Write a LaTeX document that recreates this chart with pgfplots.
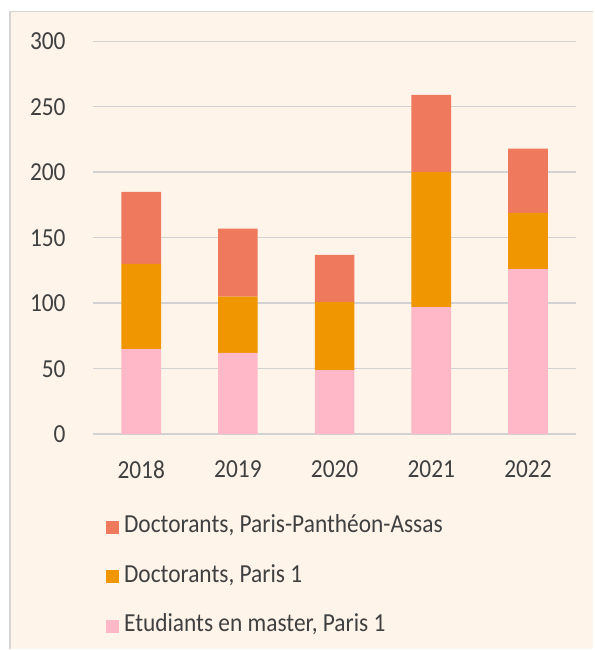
\documentclass[border=0pt]{standalone}
\usepackage{fontspec}
\setmainfont{Carlito}[FakeStretch=0.9]
\usepackage{pgfplots}
\pgfplotsset{compat=1.18}
\definecolor{bgc}{HTML}{FEF4EA}
\definecolor{bordc}{HTML}{D4D4D4}
\definecolor{gridc}{HTML}{D2D2D2}
\definecolor{txt}{HTML}{404040}
\definecolor{cpink}{HTML}{FFB8C8}
\definecolor{corange}{HTML}{F09600}
\definecolor{cred}{HTML}{EF795C}
\begin{document}
\fontsize{26bp}{30bp}\selectfont
\begin{tikzpicture}
\fill[white] (0,0) rectangle (594bp,650bp);
\fill[bgc] (10bp,0) rectangle (594bp,638.5bp);
\draw[bordc, line width=1.5bp] (10bp,0) -- (10bp,638.5bp) -- (594bp,638.5bp);
\useasboundingbox (0,0) rectangle (594bp,650bp);
\begin{axis}[
  at={(93bp,215.3bp)}, anchor=south west,
  scale only axis, width=484bp, height=393.4bp,
  ybar stacked, bar width=0.41,
  xmin=-0.5, xmax=4.5, ymin=0, ymax=300,
  ytick={0,50,100,150,200,250,300},
  xtick={0,1,2,3,4},
  xticklabels={2018,2019,2020,2021,2022},
  axis line style={draw=none},
  major tick length=0pt,
  ymajorgrids, grid style={gridc, line width=1.5bp},
  /pgf/number format/assume math mode=true,
  tick label style={text=txt, font=\fontsize{26bp}{30bp}\selectfont},
  yticklabel style={xshift=-18.5bp},
  xticklabel style={yshift=-18bp},
  reverse legend,
  legend cell align=left,
  legend style={at={(axis description cs:0.027,-0.21)}, anchor=north west,
    draw=none, fill=none, inner sep=0pt, row sep=28.5bp, column sep=5bp,
    font=\fontsize{26bp}{30bp}\selectfont,
    nodes={inner sep=0pt, text height=16bp, text depth=5bp, text=txt}},
  sq/.style={legend image code/.code={\fill[##1,draw=none] (0bp,-6.5bp) rectangle (13bp,6.5bp);}},
]
\addplot[fill=cpink, draw=none, sq] coordinates {(0,65) (1,62) (2,49) (3,97) (4,126)};
\addplot[fill=corange, draw=none, sq] coordinates {(0,65) (1,43) (2,52) (3,103) (4,43)};
\addplot[fill=cred, draw=none, sq] coordinates {(0,55) (1,52) (2,36) (3,59) (4,49)};
\legend{Etudiants en master{,} Paris 1, Doctorants{,} Paris 1, Doctorants{,} Paris-Panthéon-Assas}
\end{axis}
\end{tikzpicture}
\end{document}
